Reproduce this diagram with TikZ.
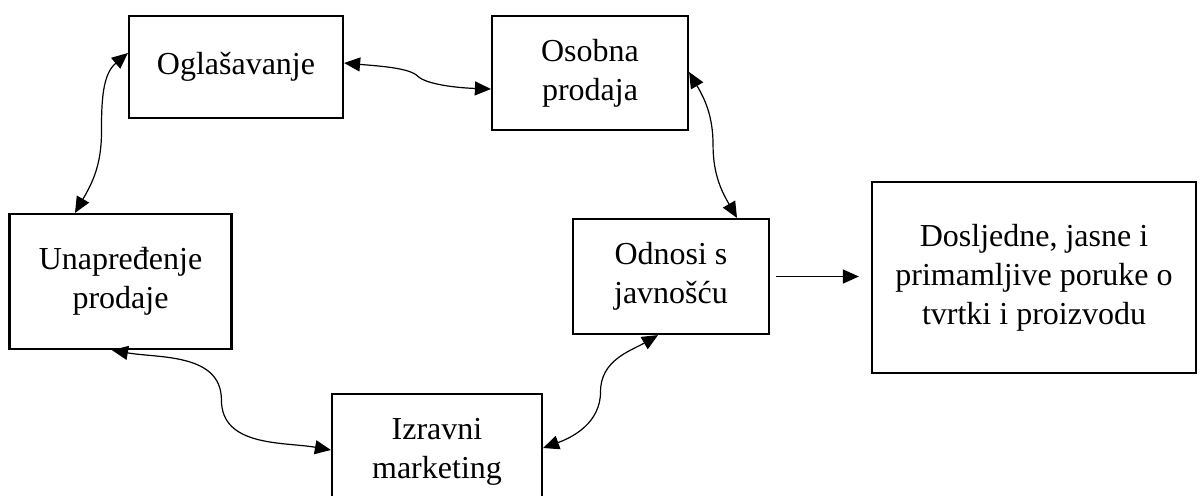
\documentclass[tikz,border=0pt]{standalone}
\usepackage{fontspec}
\setmainfont{Liberation Serif}
\usetikzlibrary{arrows.meta,calc}

\begin{document}
\begin{tikzpicture} [x=0.5pt, y=-0.5pt,
>={Triangle[length=8pt,width=7pt]},
element/.style={draw, line width=1.1pt, align=center, inner sep=0pt,
    font=\fontsize{16}{19.5}\selectfont},
link/.style={line width=0.6pt, <->},
]
    \useasboundingbox (0,0) rectangle (1200,495);
    \clip (0,0) rectangle (1200,495);
    \node [element, minimum width=107pt, minimum height=51pt]   (ogl)     at (236,67)     {Oglašavanje};
    \node [element, minimum width=98pt,  minimum height=57pt]   (osobna)  at (590,73)     {Osobna\\prodaja};
    \node [element, minimum width=111pt, minimum height=67.5pt] (unap)    at (120.5,281.5) {Unapređenje\\prodaje};
    \node [element, minimum width=98pt,  minimum height=57.5pt] (odnosi)  at (671,276.5)  {Odnosi s\\javnošću};
    \node [element, minimum width=105pt, minimum height=58pt]   (izravni) at (437,452)    {Izravni\\marketing};
    \node [element, minimum width=162pt, minimum height=95.5pt] (poruke)  at (1034,277.5) {Dosljedne, jasne i\\primamljive poruke o\\tvrtki i proizvodu};

    % end points of the curved links
    \coordinate (unap-top)    at ([xshift=-22.75pt]unap.north);
    \coordinate (unap-bottom) at ([xshift=-4.25pt]unap.south);
    \coordinate (ogl-left)    at ([yshift=7pt]ogl.west);
    \coordinate (ogl-right)   at ([yshift=2pt]ogl.east);
    \coordinate (osobna-left) at ([yshift=-8pt]osobna.west);
    \coordinate (osobna-right) at ([yshift=0.5pt]osobna.east);
    \coordinate (odnosi-top)  at ([xshift=33pt]odnosi.north);
    \coordinate (odnosi-bottom) at ([xshift=-6.5pt]odnosi.south);
    \coordinate (izravni-left)  at ([yshift=1pt]izravni.west);
    \coordinate (izravni-right) at ([yshift=2pt]izravni.east);

    \draw [link] (unap-top) to [out=60,in=270] ($(unap-top)!.5!(ogl-left)$)
                 to [out=90,in=220] (ogl-left);
    \draw [link] (ogl-right) to [out=-5,in=135,out looseness=1.2,in looseness=0.4] ($(ogl-right)!.5!(osobna-left)$)
                 to [out=-45,in=178,out looseness=0.4,in looseness=1.2] (osobna-left);
    \draw [link] (osobna-right) to [out=-60,in=90] ($(osobna-right)!.5!(odnosi-top)$)
                 to [out=-90,in=120] (odnosi-top);
    \draw [link] (odnosi-bottom) to [out=210,in=90] ($(odnosi-bottom)!.5!(izravni-right)$)
                 to [out=-90,in=20] (izravni-right);
    \draw [link] (unap-bottom) to [out=-10,in=90] ($(unap-bottom)!.5!(izravni-left)$)
                 to [out=-90,in=170] (izravni-left);
    \draw [line width=0.6pt, ->, shorten <=3pt, shorten >=6pt] (odnosi.east) -- (odnosi.east -| poruke.west);
\end{tikzpicture}
\end{document}
